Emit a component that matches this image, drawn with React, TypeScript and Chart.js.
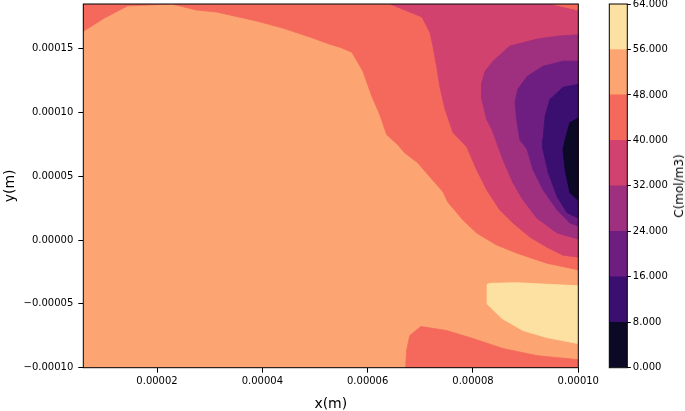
import React, { useEffect, useRef } from 'react';
import { Chart, registerables } from 'chart.js';

Chart.register(...registerables);

// ---- axes ----
const xRange = [0.000006, 0.0001];
const yRange = [-0.0001, 0.000185];
const xTicks = [0.00002, 0.00004, 0.00006, 0.00008, 0.0001];
const yTicks = [-0.0001, -0.00005, 0, 0.00005, 0.0001, 0.00015];

// ---- contour levels (C, mol/m3) and magma colours of each band ----
const levels = [0, 8, 16, 24, 32, 40, 48, 56, 64];
const levelColors = ['#0c0927', '#3b0f70', '#6e1e81', '#9f2f7f', '#d1426f', '#f4695c', '#fca572', '#fde1a3'];

// ---- filled contour regions, vertices in micrometres [x, y] ----
const UM = 1e-6;
const band48to56 = [[4, -106], [102, -106], [102, 190], [4, 190]];
const band40to48Upper = [[4, 158.3], [10.0, 174.0], [14.4, 183.5], [22.8, 185.0], [27.5, 180.3], [31.3, 178.7], [38.9, 171.7], [43.9, 166.1], [49.6, 158.3], [52.8, 153.5], [54.7, 151.2], [57.0, 147.2], [59.1, 132.3], [60.8, 112.6], [62.3, 98.4], [63.6, 82.7], [65.7, 74.8], [67.0, 68.5], [69.5, 60.6], [71.8, 49.6], [74.3, 37.8], [75.2, 29.9], [78.1, 15.7], [80.7, 5.5], [84.5, -3.9], [88.3, -10.2], [94.0, -18.1], [102, -25.0], [102, 190], [4, 190]];
const band40to48Lower = [[67.2, -106], [67.2, -100.8], [67.4, -86.6], [68.0, -74.8], [70.1, -67.7], [75.0, -70.9], [80.0, -77.2], [85.7, -85.0], [92.2, -90.6], [102, -94.5], [102, -106]];
const band56to64 = [[82.6, -35.0], [83.2, -33.9], [88.3, -33.4], [94.0, -34.6], [102, -36.2], [102, -82.7], [94.0, -76.4], [89.5, -70.9], [85.5, -61.4], [82.6, -49.6]];
const band32to40 = [[63.8, 190], [63.8, 185.8], [70.3, 174.8], [71.8, 163.0], [72.4, 152.0], [73.1, 136.2], [73.7, 120.5], [74.7, 102.4], [76.2, 84.3], [78.8, 73.2], [80.7, 55.1], [82.6, 39.4], [85.1, 23.6], [87.6, 13.4], [90.8, 2.4], [94.0, -5.5], [97.1, -11.8], [102, -14.5], [102, 177.5], [93.3, 186.0], [93.3, 190]];
const band24to32 = [[102, 161.4], [96.0, 159.8], [92.2, 157.5], [87.0, 152.0], [83.8, 140.2], [82.3, 132.3], [81.7, 123.6], [81.7, 110.2], [82.6, 94.5], [83.6, 86.6], [84.5, 76.4], [85.7, 63.0], [87.6, 44.9], [89.5, 31.5], [92.2, 17.0], [96.0, 5.5], [102, -1.6]];
const band16to24 = [[102, 140.2], [97.1, 140.2], [93.3, 136.2], [90.3, 128.3], [88.5, 118.1], [88.0, 107.9], [88.3, 94.5], [88.9, 78.7], [90.3, 70.9], [91.4, 55.1], [93.3, 39.4], [96.0, 23.6], [98.4, 13.4], [102, 7.9]];
const band8to16 = [[102, 123.6], [97.1, 119.7], [94.6, 110.2], [93.7, 96.9], [93.3, 78.7], [93.3, 70.9], [94.3, 52.8], [96.0, 33.9], [97.9, 21.3], [102, 13.4]];
const band0to8 = [[102, 100.0], [98.4, 92.1], [97.5, 78.7], [97.1, 70.9], [97.5, 55.1], [98.4, 37.0], [102, 23.6]];

// painter's order: [band index, polygon]
const regions: [number, number[][]][] = [
  [6, band48to56],
  [5, band40to48Upper],
  [5, band40to48Lower],
  [7, band56to64],
  [4, band32to40],
  [3, band24to32],
  [2, band16to24],
  [1, band8to16],
  [0, band0to8],
];

const FONT = 'DejaVu Sans';

const fmtAxis = (v: number) => {
  const s = (Math.abs(v) < 1e-12 ? 0 : v).toFixed(5);
  return s.replace('-', '\u2212');
};

const framePlugin = {
  id: 'frame',
  afterDatasetsDraw(chart: any) {
    const { ctx, chartArea: a } = chart;
    ctx.save();
    ctx.strokeStyle = '#000';
    ctx.lineWidth = 1;
    ctx.strokeRect(a.left, a.top, a.right - a.left, a.bottom - a.top);
    ctx.restore();
  },
};

const noPad = (s: any) => {
  s.paddingTop = 0;
  s.paddingBottom = 0;
  s.paddingLeft = 0;
  s.paddingRight = 0;
};

export default function App() {
  const mainRef = useRef<HTMLCanvasElement>(null);
  const barRef = useRef<HTMLCanvasElement>(null);

  useEffect(() => {
    const datasets = regions
      .map(([lvl, poly]) => ({
        data: poly.map(([x, y]) => ({ x: x * UM, y: y * UM })),
        showLine: true,
        fill: 'shape' as any,
        backgroundColor: levelColors[lvl],
        borderColor: levelColors[lvl],
        borderWidth: 0.8,
        pointRadius: 0,
        pointHoverRadius: 0,
        tension: 0,
      }))
      .reverse();

    const main = new Chart(mainRef.current!, {
      type: 'scatter',
      data: { datasets },
      options: {
        animation: false,
        responsive: false,
        maintainAspectRatio: false,
        events: [],
        layout: { padding: { left: 0, top: 4, right: 106.7, bottom: 0 } },
        plugins: { legend: { display: false }, tooltip: { enabled: false }, filler: { propagate: false } as any },
        scales: {
          x: {
            type: 'linear',
            min: xRange[0],
            max: xRange[1],
            afterFit: (s: any) => { s.height = 43.3; noPad(s); },
            afterBuildTicks: (s: any) => { s.ticks = xTicks.map((v) => ({ value: v })); },
            grid: { display: true, drawOnChartArea: false, tickLength: 5, color: '#000', lineWidth: 1 },
            border: { display: false },
            ticks: { font: { family: FONT, size: 10 }, color: '#000', padding: 3, maxRotation: 0, autoSkip: false, callback: (v: any) => fmtAxis(Number(v)) },
            title: { display: true, text: 'x(m)', font: { family: FONT, size: 14, lineHeight: 1 }, color: '#000', padding: { top: 0, bottom: 0 } },
          },
          y: {
            type: 'linear',
            min: yRange[0],
            max: yRange[1],
            afterFit: (s: any) => { s.width = 83.3; noPad(s); },
            afterBuildTicks: (s: any) => { s.ticks = yTicks.map((v) => ({ value: v })); },
            grid: { display: true, drawOnChartArea: false, tickLength: 5, color: '#000', lineWidth: 1 },
            border: { display: false },
            ticks: { font: { family: FONT, size: 10 }, color: '#000', padding: 5, autoSkip: false, callback: (v: any) => fmtAxis(Number(v)) },
            title: { display: true, text: 'y(m)', font: { family: FONT, size: 14, lineHeight: 1 }, color: '#000', padding: { top: 3, bottom: 0 } },
          },
        },
      },
      plugins: [framePlugin],
    });

    const bar = new Chart(barRef.current!, {
      type: 'bar',
      data: {
        labels: [''],
        datasets: levelColors.map((c, i) => ({
          data: [[levels[i], levels[i + 1]]] as any,
          backgroundColor: c,
          borderWidth: 0,
          barPercentage: 1,
          categoryPercentage: 1,
          grouped: false,
        })),
      },
      options: {
        animation: false,
        responsive: false,
        maintainAspectRatio: false,
        events: [],
        layout: { padding: { left: 9.3, top: 4, right: 0, bottom: 43.3 } },
        plugins: { legend: { display: false }, tooltip: { enabled: false } },
        scales: {
          x: { display: false },
          y: {
            position: 'right',
            min: levels[0],
            max: levels[levels.length - 1],
            afterFit: (s: any) => { s.width = 57.7; noPad(s); },
            afterBuildTicks: (s: any) => { s.ticks = levels.map((v) => ({ value: v })); },
            grid: { display: true, drawOnChartArea: false, tickLength: 3.5, color: '#000', lineWidth: 1 },
            border: { display: false },
            ticks: { font: { family: FONT, size: 10 }, color: '#000', padding: 2, autoSkip: false, callback: (v: any) => Number(v).toFixed(3) },
          },
        },
      },
      plugins: [framePlugin],
    });

    return () => {
      main.destroy();
      bar.destroy();
    };
  }, []);

  return (
    <div style={{ position: 'absolute', left: 0, top: 0, width: 685, height: 411, background: '#fff', overflow: 'hidden' }}>
      <canvas ref={mainRef} width={685} height={411} style={{ position: 'absolute', left: 0, top: 0, width: 685, height: 411 }} />
      <canvas ref={barRef} width={85} height={411} style={{ position: 'absolute', left: 600, top: 0, width: 85, height: 411 }} />
      <div
        style={{
          position: 'absolute',
          left: 679,
          top: 186,
          transform: 'translate(-50%, -50%) rotate(-90deg)',
          fontFamily: FONT,
          fontSize: 12,
          color: '#000',
          whiteSpace: 'nowrap',
          lineHeight: 1,
        }}
      >
        C(mol/m3)
      </div>
    </div>
  );
}
